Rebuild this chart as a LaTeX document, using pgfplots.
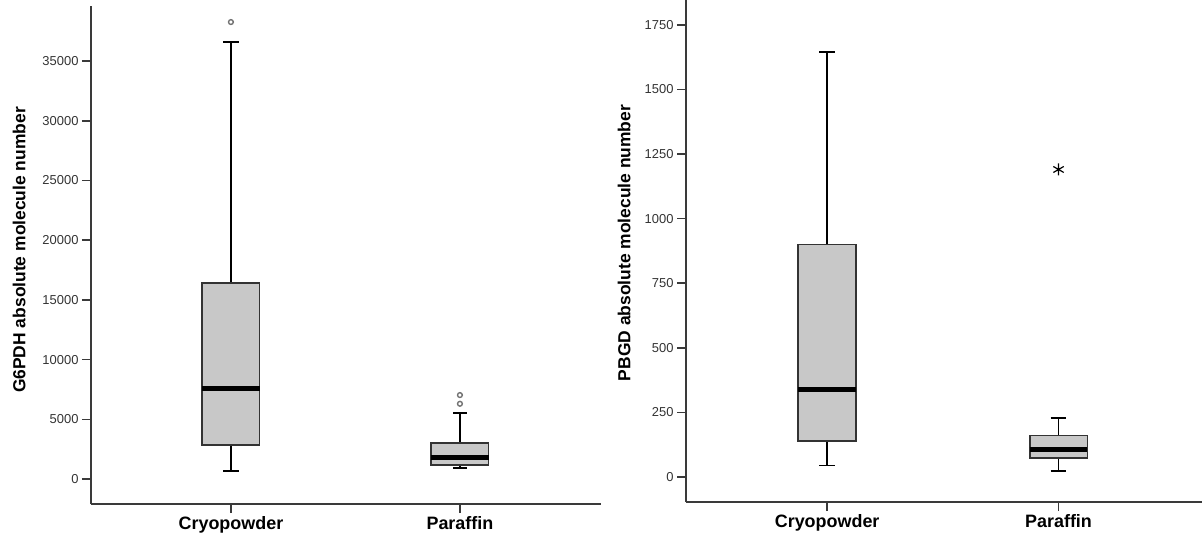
\documentclass[border=0pt]{standalone}
\usepackage{pgfplots}
\pgfplotsset{compat=1.18}
\usepgfplotslibrary{statistics}
\usepackage{fontspec}
\setmainfont{Liberation Sans}
\definecolor{boxgray}{HTML}{C8C8C8}
\definecolor{boxedge}{HTML}{333333}
\definecolor{axgray}{HTML}{3A3A3A}
\definecolor{tickgray}{HTML}{333333}
\pgfplotsset{
  spssbox/.style={
    axis x line*=bottom, axis y line*=left,
    scale only axis,
    axis line style={axgray, line width=1.8bp},
    tick style={axgray, line width=1.5bp},
    tick align=outside,
    major tick length=9bp,
    xtick={1,2},
    xticklabels={Cryopowder,Paraffin},
    xticklabel style={font=\bfseries\fontsize{18}{21}\selectfont, black},
    yticklabel style={font=\fontsize{13}{15}\selectfont, tickgray},
    /pgf/number format/assume math mode=true,
    /pgf/number format/1000 sep={},
    scaled y ticks=false,
    clip=false,
    boxplot/draw direction=y,
    boxplot/every box/.style={fill=boxgray, draw=boxedge, line width=1.8bp},
    boxplot/every whisker/.style={black, line width=1.8bp},
    boxplot/every median/.style={black, line width=5bp},
  }
}
\begin{document}
\begin{tikzpicture}
% Left panel
\begin{axis}[spssbox,
  at={(91bp,38bp)}, anchor=south west,
  width=510bp, height=498bp,
  xmin=0.389, xmax=2.616,
  ymin=-2094, ymax=39615,
  ytick={0,5000,10000,15000,20000,25000,30000,35000},
  every axis y label/.style={at={(axis description cs:-0.141,0.51)}, rotate=90, anchor=center, font=\bfseries\fontsize{17.5}{20}\selectfont},
  ylabel={G6PDH absolute molecule number},
]
\addplot[boxplot prepared={draw position=1, lower whisker=670, lower quartile=2850, median=7550, upper quartile=16400, upper whisker=36600, box extend=0.25, whisker extend=0.068},
  mark=o, mark size=2.4bp, mark options={draw=black!55, line width=1.4bp, fill=white}]
  coordinates {(1,38270)};
\addplot[boxplot prepared={draw position=2, lower whisker=920, lower quartile=1150, median=1820, upper quartile=2990, upper whisker=5500, box extend=0.25, whisker extend=0.06},
  mark=o, mark size=2.4bp, mark options={draw=black!55, line width=1.4bp, fill=white}]
  coordinates {(2,6300) (2,7030)};
\end{axis}
% Right panel
\begin{axis}[spssbox,
  at={(686bp,40bp)}, anchor=south west,
  width=516bp, height=502bp,
  xmin=0.39, xmax=2.62,
  ymin=-97, ymax=1846,
  ytick={0,250,500,750,1000,1250,1500,1750},
  every axis y label/.style={at={(axis description cs:-0.120,0.516)}, rotate=90, anchor=center, font=\bfseries\fontsize{17.5}{20}\selectfont},
  ylabel={PBGD absolute molecule number},
]
\addplot[boxplot prepared={draw position=1, lower whisker=44, lower quartile=140, median=337, upper quartile=900, upper whisker=1645, box extend=0.25, whisker extend=0.068},
  draw=none, mark=none]
  coordinates {};
\addplot[boxplot prepared={draw position=2, lower whisker=22, lower quartile=72, median=108, upper quartile=160, upper whisker=228, box extend=0.25, whisker extend=0.068},
  mark=asterisk, mark size=6bp, mark options={black, line width=1.2bp}]
  coordinates {(2,1190)};
\end{axis}
\pgfresetboundingbox
\useasboundingbox (0bp,0bp) rectangle (1203bp,542bp);
\end{tikzpicture}
\end{document}
